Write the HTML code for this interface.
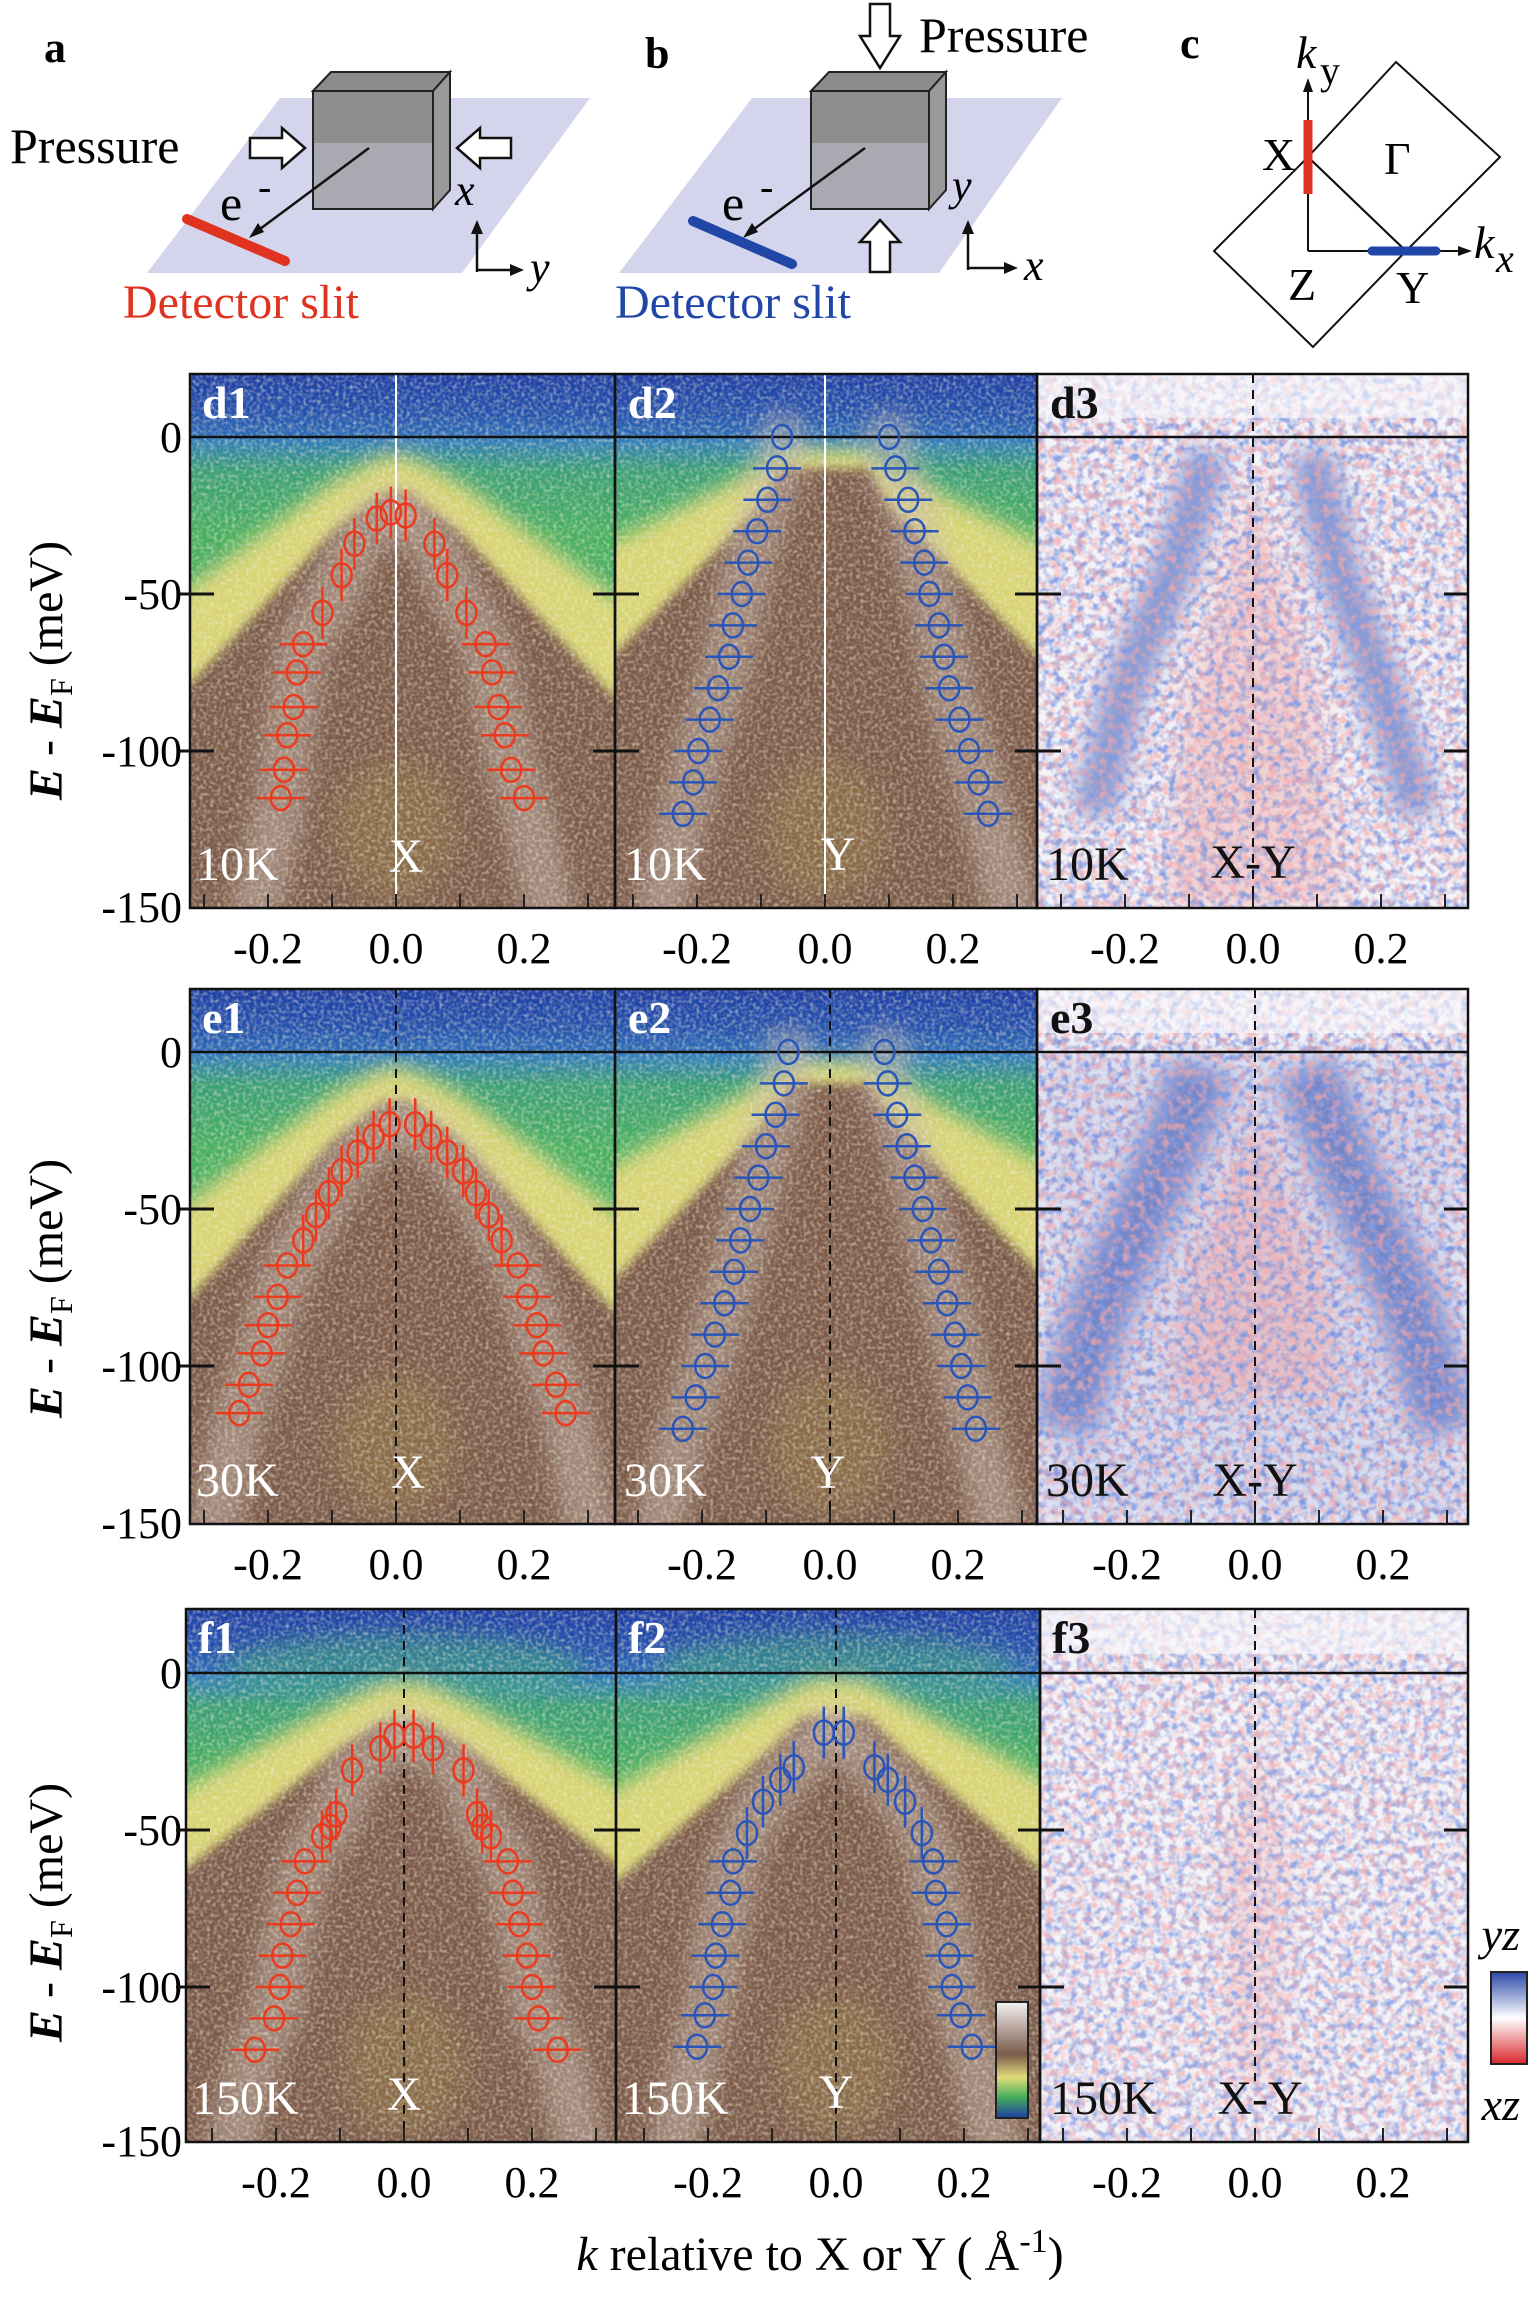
<!DOCTYPE html>
<html><head><meta charset="utf-8">
<style>
html,body{margin:0;padding:0;background:#fff;width:1538px;height:2300px;overflow:hidden;}
svg{display:block;font-family:"Liberation Serif",serif;}
</style></head>
<body>
<svg id="s" width="1538" height="2300" viewBox="0 0 1538 2300" xmlns="http://www.w3.org/2000/svg">
<defs>
  <filter id="b10" x="-30%" y="-30%" width="160%" height="160%"><feGaussianBlur stdDeviation="10"/></filter>
  <filter id="b5" x="-30%" y="-30%" width="160%" height="160%"><feGaussianBlur stdDeviation="5"/></filter>
  <filter id="b14" x="-30%" y="-30%" width="160%" height="160%"><feGaussianBlur stdDeviation="12"/></filter>
  <filter id="nW" x="0" y="0" width="100%" height="100%">
    <feTurbulence type="fractalNoise" baseFrequency="0.28" numOctaves="1" seed="3"/>
    <feColorMatrix type="matrix" values="0 0 0 0 0.95  0 0 0 0 0.92  0 0 0 0 0.9  2.2 0 0 0 -1.0"/>
  </filter>
  <filter id="nD" x="0" y="0" width="100%" height="100%">
    <feTurbulence type="fractalNoise" baseFrequency="0.3" numOctaves="1" seed="9"/>
    <feColorMatrix type="matrix" values="0 0 0 0 0.8  0 0 0 0 0.78  0 0 0 0 0.35  0 2.2 0 0 -1.05"/>
  </filter>
  <filter id="nB" x="0" y="0" width="100%" height="100%">
    <feTurbulence type="fractalNoise" baseFrequency="0.13" numOctaves="2" seed="5"/>
    <feColorMatrix type="matrix" values="0 0 0 0 0.22  0 0 0 0 0.32  0 0 0 0 0.75  3 0 0 0 -1.25"/>
  </filter>
  <filter id="nR" x="0" y="0" width="100%" height="100%">
    <feTurbulence type="fractalNoise" baseFrequency="0.13" numOctaves="2" seed="17"/>
    <feColorMatrix type="matrix" values="0 0 0 0 0.92  0 0 0 0 0.4  0 0 0 0 0.4  0 3 0 0 -1.3"/>
  </filter>
  <linearGradient id="gBG" x1="0" y1="0" x2="0" y2="1">
    <stop offset="0" stop-color="#2f78c2"/>
    <stop offset="0.07" stop-color="#3a9e78"/>
    <stop offset="0.2" stop-color="#48ae62"/>
    <stop offset="1" stop-color="#4fb25c"/>
  </linearGradient>
  <linearGradient id="gTop" x1="0" y1="0" x2="0" y2="1">
    <stop offset="0" stop-color="#1e3ea6"/>
    <stop offset="0.6" stop-color="#2450ae"/>
    <stop offset="1" stop-color="#2d6db8"/>
  </linearGradient>
  <linearGradient id="gCB" x1="0" y1="0" x2="0" y2="1">
    <stop offset="0" stop-color="#f4f2f2"/>
    <stop offset="0.45" stop-color="#7b5a4b"/>
    <stop offset="0.65" stop-color="#e2dc7a"/>
    <stop offset="0.82" stop-color="#45ae5c"/>
    <stop offset="1" stop-color="#1e3ea6"/>
  </linearGradient>
  <linearGradient id="gRB" x1="0" y1="0" x2="0" y2="1">
    <stop offset="0" stop-color="#2a48a8"/>
    <stop offset="0.5" stop-color="#ffffff"/>
    <stop offset="1" stop-color="#d8262a"/>
  </linearGradient>
</defs>

<g id="heat"></g>
<g id="marks"></g>

<!-- ===== top schematic a ===== -->
<g>
  <text x="44" y="62" font-size="44" font-weight="bold">a</text>
  <polygon points="280,98 590,98 462,273 147,273" fill="#c9cbe9" opacity="0.8"/>
  <polygon points="313,91 331,72 450,72 433,91" fill="#8c8c8c" stroke="#222" stroke-width="2"/>
  <polygon points="433,91 450,72 450,190 433,209" fill="#9a9a9a" stroke="#222" stroke-width="2"/>
  <rect x="313" y="91" width="120" height="52" fill="#8e8e8e"/>
  <rect x="313" y="143" width="120" height="66" fill="#a9a9b2"/>
  <rect x="313" y="91" width="120" height="118" fill="none" stroke="#222" stroke-width="2"/>
  <text x="10" y="163" font-size="50">Pressure</text>
  <polygon points="250,138 282,138 282,128 305,148 282,168 282,158 250,158" fill="#fff" stroke="#111" stroke-width="2.5"/>
  <polygon points="511,138 480,138 480,128 457,148 480,168 480,158 511,158" fill="#fff" stroke="#111" stroke-width="2.5"/>
  <line x1="369" y1="148" x2="256" y2="232" stroke="#111" stroke-width="2.5"/>
  <polygon points="249,238 258,223 264,232" fill="#111"/>
  <line x1="187" y1="219" x2="285" y2="261" stroke="#e0331f" stroke-width="10" stroke-linecap="round"/>
  <text x="220" y="220" font-size="50">e</text>
  <text x="258" y="200" font-size="40">-</text>
  <text x="455" y="205" font-size="44" font-style="italic">x</text>
  <polyline points="477,272 477,232" fill="none" stroke="#111" stroke-width="2.5"/>
  <polygon points="471,234 477,220 483,234" fill="#111"/>
  <polyline points="477,270 512,270" fill="none" stroke="#111" stroke-width="2.5"/>
  <polygon points="510,264 524,270 510,276" fill="#111"/>
  <text x="530" y="282" font-size="44" font-style="italic">y</text>
  <text x="123" y="318" font-size="48" fill="#e0331f">Detector slit</text>
</g>

<!-- ===== b ===== -->
<g>
  <text x="645" y="68" font-size="44" font-weight="bold">b</text>
  <polygon points="752,98 1062,98 939,273 619,273" fill="#c9cbe9" opacity="0.8"/>
  <polygon points="811,91 829,72 946,72 929,91" fill="#8c8c8c" stroke="#222" stroke-width="2"/>
  <polygon points="929,91 946,72 946,190 929,209" fill="#9a9a9a" stroke="#222" stroke-width="2"/>
  <rect x="811" y="91" width="118" height="52" fill="#8e8e8e"/>
  <rect x="811" y="143" width="118" height="66" fill="#a9a9b2"/>
  <rect x="811" y="91" width="118" height="118" fill="none" stroke="#222" stroke-width="2"/>
  <polygon points="870,4 890,4 890,36 900,36 880,68 860,36 870,36" fill="#fff" stroke="#111" stroke-width="2.5"/>
  <text x="919" y="52" font-size="50">Pressure</text>
  <polygon points="870,272 890,272 890,242 900,242 880,220 860,242 870,242" fill="#fff" stroke="#111" stroke-width="2.5"/>
  <line x1="865" y1="148" x2="750" y2="232" stroke="#111" stroke-width="2.5"/>
  <polygon points="743,238 752,223 758,232" fill="#111"/>
  <line x1="693" y1="221" x2="792" y2="264" stroke="#2046a8" stroke-width="10" stroke-linecap="round"/>
  <text x="722" y="220" font-size="50">e</text>
  <text x="760" y="200" font-size="40">-</text>
  <text x="952" y="200" font-size="44" font-style="italic">y</text>
  <polyline points="968,270 968,232" fill="none" stroke="#111" stroke-width="2.5"/>
  <polygon points="962,234 968,220 974,234" fill="#111"/>
  <polyline points="968,268 1006,268" fill="none" stroke="#111" stroke-width="2.5"/>
  <polygon points="1004,262 1018,268 1004,274" fill="#111"/>
  <text x="1024" y="280" font-size="44" font-style="italic">x</text>
  <text x="615" y="318" font-size="48" fill="#2046a8">Detector slit</text>
</g>

<!-- ===== c ===== -->
<g>
  <text x="1180" y="58" font-size="44" font-weight="bold">c</text>
  <polygon points="1396,62 1500,157 1406,251 1308,157" fill="none" stroke="#111" stroke-width="2"/>
  <polygon points="1308,157 1406,251 1313,347 1214,251" fill="none" stroke="#111" stroke-width="2"/>
  <line x1="1308" y1="251" x2="1308" y2="88" stroke="#111" stroke-width="2"/>
  <polygon points="1303,92 1308,78 1313,92" fill="#111"/>
  <line x1="1308" y1="251" x2="1462" y2="251" stroke="#111" stroke-width="2"/>
  <polygon points="1458,246 1472,251 1458,256" fill="#111"/>
  <line x1="1308" y1="120" x2="1308" y2="194" stroke="#e0331f" stroke-width="9"/>
  <line x1="1372" y1="251" x2="1436" y2="251" stroke="#2046a8" stroke-width="9" stroke-linecap="round"/>
  <text x="1296" y="68" font-size="46" font-style="italic">k</text>
  <text x="1320" y="84" font-size="40">y</text>
  <text x="1262" y="170" font-size="46">X</text>
  <text x="1384" y="174" font-size="46">Γ</text>
  <text x="1474" y="258" font-size="46" font-style="italic">k</text>
  <text x="1496" y="272" font-size="40" font-style="italic">x</text>
  <text x="1288" y="300" font-size="46">Z</text>
  <text x="1396" y="303" font-size="46">Y</text>
</g>

<!-- ===== axis labels ===== -->
<g font-size="44" text-anchor="end">
  <text x="182" y="452">0</text><text x="182" y="609">-50</text><text x="182" y="766">-100</text><text x="182" y="922">-150</text>
  <text x="182" y="1067">0</text><text x="182" y="1224">-50</text><text x="182" y="1381">-100</text><text x="182" y="1538">-150</text>
  <text x="182" y="1688">0</text><text x="182" y="1845">-50</text><text x="182" y="2002">-100</text><text x="182" y="2156">-150</text>
</g>
<g font-size="44" text-anchor="middle">
  <text x="268" y="963">-0.2</text><text x="396" y="963">0.0</text><text x="524" y="963">0.2</text>
  <text x="697" y="963">-0.2</text><text x="825" y="963">0.0</text><text x="953" y="963">0.2</text>
  <text x="1125" y="963">-0.2</text><text x="1253" y="963">0.0</text><text x="1381" y="963">0.2</text>
  <text x="268" y="1579">-0.2</text><text x="396" y="1579">0.0</text><text x="524" y="1579">0.2</text>
  <text x="702" y="1579">-0.2</text><text x="830" y="1579">0.0</text><text x="958" y="1579">0.2</text>
  <text x="1127" y="1579">-0.2</text><text x="1255" y="1579">0.0</text><text x="1383" y="1579">0.2</text>
  <text x="276" y="2197">-0.2</text><text x="404" y="2197">0.0</text><text x="532" y="2197">0.2</text>
  <text x="708" y="2197">-0.2</text><text x="836" y="2197">0.0</text><text x="964" y="2197">0.2</text>
  <text x="1127" y="2197">-0.2</text><text x="1255" y="2197">0.0</text><text x="1383" y="2197">0.2</text>
</g>
<g font-size="48">
  <text transform="translate(62,800) rotate(-90)"><tspan font-style="italic" font-weight="bold">E</tspan> - <tspan font-style="italic" font-weight="bold">E</tspan><tspan font-size="32" dy="10">F</tspan><tspan dy="-10"> (meV)</tspan></text>
  <text transform="translate(62,1418) rotate(-90)"><tspan font-style="italic" font-weight="bold">E</tspan> - <tspan font-style="italic" font-weight="bold">E</tspan><tspan font-size="32" dy="10">F</tspan><tspan dy="-10"> (meV)</tspan></text>
  <text transform="translate(62,2042) rotate(-90)"><tspan font-style="italic" font-weight="bold">E</tspan> - <tspan font-style="italic" font-weight="bold">E</tspan><tspan font-size="32" dy="10">F</tspan><tspan dy="-10"> (meV)</tspan></text>
</g>
<text x="820" y="2270" font-size="48" text-anchor="middle"><tspan font-style="italic">k</tspan> relative to X or Y ( Å<tspan font-size="34" dy="-18">-1</tspan><tspan dy="18">)</tspan></text>

<!-- panel labels -->
<g font-size="46" font-weight="bold">
  <text x="202" y="418" fill="#fff">d1</text><text x="628" y="418" fill="#fff">d2</text><text x="1050" y="418" fill="#111">d3</text>
  <text x="202" y="1033" fill="#fff">e1</text><text x="628" y="1033" fill="#fff">e2</text><text x="1050" y="1033" fill="#111">e3</text>
  <text x="198" y="1653" fill="#fff">f1</text><text x="628" y="1653" fill="#fff">f2</text><text x="1052" y="1653" fill="#111">f3</text>
</g>
<g font-size="48">
  <text x="196" y="880" fill="#fff">10K</text><text x="406" y="872" fill="#fff" text-anchor="middle">X</text>
  <text x="624" y="880" fill="#fff">10K</text><text x="838" y="870" fill="#fff" text-anchor="middle">Y</text>
  <text x="1046" y="880" fill="#111">10K</text><text x="1253" y="878" fill="#111" text-anchor="middle">X-Y</text>
  <text x="196" y="1496" fill="#fff">30K</text><text x="408" y="1488" fill="#fff" text-anchor="middle">X</text>
  <text x="624" y="1496" fill="#fff">30K</text><text x="828" y="1488" fill="#fff" text-anchor="middle">Y</text>
  <text x="1046" y="1496" fill="#111">30K</text><text x="1255" y="1496" fill="#111" text-anchor="middle">X-Y</text>
  <text x="192" y="2114" fill="#fff">150K</text><text x="404" y="2110" fill="#fff" text-anchor="middle">X</text>
  <text x="622" y="2114" fill="#fff">150K</text><text x="836" y="2108" fill="#fff" text-anchor="middle">Y</text>
  <text x="1050" y="2114" fill="#111">150K</text><text x="1260" y="2114" fill="#111" text-anchor="middle">X-Y</text>
</g>
<!-- colorbars -->
<rect x="996" y="2002" width="32" height="116" fill="url(#gCB)" stroke="#222" stroke-width="2"/>
<text x="1520" y="1950" font-size="46" font-style="italic" text-anchor="end">yz</text>
<rect x="1491" y="1972" width="36" height="92" fill="url(#gRB)" stroke="#222" stroke-width="2"/>
<text x="1520" y="2120" font-size="46" font-style="italic" text-anchor="end">xz</text>
</svg>

<script>
(function(){
var NS="http://www.w3.org/2000/svg";
var heat=document.getElementById('heat'), marks=document.getElementById('marks');
var defs=document.querySelector('defs');
function el(t,a,p){var e=document.createElementNS(NS,t);for(var k in a)e.setAttribute(k,a[k]);(p||heat).appendChild(e);return e;}
var KS=640, ES=3.14;
var rows=[{y1:374,y2:908,E0:437},{y1:989,y2:1524,E0:1052},{y1:1609,y2:2142,E0:1673}];
var cols=[
 [{x1:190,x2:615,k0:396},{x1:615,x2:1037,k0:825},{x1:1037,x2:1468,k0:1253}],
 [{x1:190,x2:615,k0:396},{x1:615,x2:1037,k0:830},{x1:1037,x2:1468,k0:1255}],
 [{x1:186,x2:616,k0:404},{x1:616,x2:1040,k0:836},{x1:1040,x2:1468,k0:1255}]];
var cid=0;
function P(p){return function(k,E){return [(p.k0+k*KS).toFixed(1),(p.E0-E*ES).toFixed(1)];};}
function poly(f,pts){return pts.map(function(q){return f(q[0],q[1]).join(',');}).join(' ');}
function dome(apex,edge,w){
 var pts=[[-0.6,edge-60],[-0.42,edge],[-0.25,apex+(edge-apex)*0.55],[-0.1,apex+(edge-apex)*0.15],[-w,apex],[w,apex],[0.1,apex+(edge-apex)*0.15],[0.25,apex+(edge-apex)*0.55],[0.42,edge],[0.6,edge-60],[0.6,-250],[-0.6,-250]];
 return pts;}
function arpes(p,cfg){
 var f=P(p); cid++;
 var cp=el('clipPath',{id:'c'+cid},defs); el('rect',{x:p.x1,y:p.y1,width:p.x2-p.x1,height:p.y2-p.y1},cp);
 var g=el('g',{'clip-path':'url(#c'+cid+')'});
 el('rect',{x:p.x1,y:p.y1,width:p.x2-p.x1,height:p.E0-p.y1,fill:'url(#gTop)'},g);
 el('rect',{x:p.x1,y:p.E0,width:p.x2-p.x1,height:p.y2-p.E0,fill:'url(#gBG)'},g);
 if(cfg.fTop){el('ellipse',{cx:p.k0,cy:p.E0-5,rx:180,ry:35,fill:'#3aa07a',opacity:0.55,filter:'url(#b10)'},g);}
 el('polygon',{points:poly(f,dome(cfg.y[0],cfg.y[1],cfg.y[2])),fill:'#d8d474',filter:'url(#b10)'},g);
 el('polygon',{points:poly(f,dome(cfg.b[0],cfg.b[1],cfg.b[2])),fill:'#7b5a4b',filter:'url(#b5)'},g);
 cfg.bands.forEach(function(L){
   var d='M'+L.map(function(q){return f(q[0],q[1]).join(',');}).join(' L');
   el('path',{d:d,fill:'none',stroke:'#c4b4ac','stroke-width':50,opacity:0.5,filter:'url(#b10)','stroke-linecap':'round'},g);
 });
 el('ellipse',{cx:p.k0,cy:p.E0+125*ES,rx:60,ry:70,fill:'#a08848',opacity:0.35,filter:'url(#b14)'},g);
 el('rect',{x:p.x1,y:p.y1,width:p.x2-p.x1,height:p.y2-p.y1,filter:'url(#nW)',opacity:0.55},g);
 el('rect',{x:p.x1,y:p.y1,width:p.x2-p.x1,height:p.y2-p.y1,filter:'url(#nD)',opacity:0.45},g);
}
function diffmap(p,cfg){
 var f=P(p); cid++;
 var cp=el('clipPath',{id:'c'+cid},defs); el('rect',{x:p.x1,y:p.y1,width:p.x2-p.x1,height:p.y2-p.y1},cp);
 var g=el('g',{'clip-path':'url(#c'+cid+')'});
 el('rect',{x:p.x1,y:p.y1,width:p.x2-p.x1,height:p.y2-p.y1,fill:'#f3f3f8'},g);
 if(cfg.wide){el('rect',{x:p.x1,y:p.E0,width:p.x2-p.x1,height:p.y2-p.E0,fill:'#a8b4e0',opacity:cfg.wide,filter:'url(#b14)'},g);}
 cfg.blue.forEach(function(L){
   var d='M'+L.map(function(q){return f(q[0],q[1]).join(',');}).join(' L');
   el('path',{d:d,fill:'none',stroke:'#3a56b4','stroke-width':cfg.bw,opacity:cfg.bo,filter:'url(#b14)'},g);
 });
 if(cfg.red){el('polygon',{points:poly(f,cfg.red),fill:'#f2a8a8',opacity:cfg.ro,filter:'url(#b14)'},g);}
 el('rect',{x:p.x1,y:p.y1,width:p.x2-p.x1,height:p.y2-p.y1,filter:'url(#nB)',opacity:cfg.nb},g);
 el('rect',{x:p.x1,y:p.y1,width:p.x2-p.x1,height:p.y2-p.y1,filter:'url(#nR)',opacity:cfg.nr},g);
 if(cfg.topWhite){el('rect',{x:p.x1,y:p.y1,width:p.x2-p.x1,height:(p.E0-p.y1)*0.7,fill:'#fafafd',opacity:0.6},g);}
}
var d1=[[-0.18,-115,'h'],[-0.175,-106,'h'],[-0.17,-95,'h'],[-0.16,-86,'h'],[-0.155,-75,'h'],[-0.145,-66,'h'],[-0.115,-56,'v'],[-0.085,-44,'v'],[-0.065,-34,'v'],[-0.03,-26,'v'],[-0.008,-24,'v'],[0.015,-25,'v'],[0.06,-34,'v'],[0.08,-44,'v'],[0.11,-56,'v'],[0.14,-66,'h'],[0.15,-75,'h'],[0.16,-86,'h'],[0.17,-95,'h'],[0.18,-106,'h'],[0.2,-115,'h']];
var d2L=[-0.067,-0.075,-0.09,-0.106,-0.12,-0.13,-0.144,-0.15,-0.167,-0.18,-0.198,-0.206,-0.222];
var d2R=[0.10,0.11,0.13,0.14,0.155,0.163,0.178,0.186,0.194,0.21,0.225,0.24,0.255];
var d2=[];for(var i=0;i<13;i++){d2.push([d2L[i],-10*i,i?'h':'n']);d2.push([d2R[i],-10*i,i?'h':'n']);}
var e1=[[-0.245,-115,'h'],[-0.23,-106,'h'],[-0.21,-96,'h'],[-0.2,-87,'h'],[-0.185,-78,'h'],[-0.17,-68,'h'],[-0.145,-60,'v'],[-0.125,-52,'v'],[-0.105,-45,'v'],[-0.085,-38,'v'],[-0.06,-32,'v'],[-0.035,-27,'v'],[-0.01,-23,'v']];
var e1r=e1.map(function(q){return [-q[0]+0.02,q[1],q[2]];});e1=e1.concat(e1r);
var e2L=[-0.065,-0.072,-0.085,-0.1,-0.112,-0.125,-0.14,-0.15,-0.165,-0.18,-0.195,-0.21,-0.23];
var e2R=[0.085,0.09,0.105,0.12,0.132,0.145,0.158,0.17,0.183,0.195,0.205,0.215,0.228];
var e2=[];for(i=0;i<13;i++){e2.push([e2L[i],-10*i,i?'h':'n']);e2.push([e2R[i],-10*i,i?'h':'n']);}
var f1=[[-0.233,-120,'h'],[-0.203,-110,'h'],[-0.194,-100,'h'],[-0.19,-90,'h'],[-0.177,-80,'h'],[-0.167,-70,'h'],[-0.155,-60,'h'],[-0.128,-52,'v'],[-0.115,-49,'v'],[-0.106,-45,'v'],[-0.081,-31,'v'],[-0.037,-24,'v'],[-0.015,-20,'v'],[0.015,-20,'v'],[0.045,-24,'v'],[0.093,-31,'v'],[0.114,-45,'v'],[0.122,-49,'v'],[0.136,-52,'v'],[0.162,-60,'h'],[0.17,-70,'h'],[0.18,-80,'h'],[0.192,-90,'h'],[0.2,-100,'h'],[0.21,-110,'h'],[0.24,-120,'h']];
var f2=[[-0.217,-119,'h'],[-0.205,-109,'h'],[-0.192,-100,'h'],[-0.188,-90,'h'],[-0.178,-80,'h'],[-0.165,-70,'h'],[-0.161,-60,'h'],[-0.139,-51,'v'],[-0.114,-41,'v'],[-0.087,-34,'v'],[-0.066,-30,'v'],[-0.019,-19,'v'],[0.012,-19,'v'],[0.06,-30,'v'],[0.081,-34,'v'],[0.108,-41,'v'],[0.134,-51,'v'],[0.152,-60,'h'],[0.156,-70,'h'],[0.173,-80,'h'],[0.177,-90,'h'],[0.181,-100,'h'],[0.195,-109,'h'],[0.212,-119,'h']];
function bands(D){var L=D.filter(function(q){return q[0]<0;}).sort(function(a,b){return a[1]-b[1];}),R=D.filter(function(q){return q[0]>=0;}).sort(function(a,b){return a[1]-b[1];});
 L=[[L[0][0]-0.06,-170]].concat(L);R=[[R[0][0]+0.06,-170]].concat(R);return [L,R];}
arpes(Object.assign({},cols[0][0],rows[0]),{y:[-6,-62,0.02],b:[-18,-100,0.02],bands:bands(d1)});
arpes(Object.assign({},cols[0][1],rows[0]),{y:[-4,-42,0.06],b:[-10,-88,0.07],bands:bands(d2)});
arpes(Object.assign({},cols[1][0],rows[1]),{y:[-5,-62,0.02],b:[-16,-100,0.02],bands:bands(e1)});
arpes(Object.assign({},cols[1][1],rows[1]),{y:[-3,-45,0.05],b:[-10,-90,0.06],bands:bands(e2)});
arpes(Object.assign({},cols[2][0],rows[2]),{y:[-3,-45,0.03],b:[-15,-75,0.03],bands:bands(f1),fTop:1});
arpes(Object.assign({},cols[2][1],rows[2]),{y:[-2,-45,0.04],b:[-14,-80,0.05],bands:bands(f2),fTop:1});
diffmap(Object.assign({},cols[0][2],rows[0]),{blue:[[[-0.07,-5],[-0.12,-40],[-0.2,-80],[-0.25,-120]],[[0.09,-5],[0.13,-40],[0.2,-80],[0.26,-120]]],bw:40,bo:0.6,red:[[0,-15],[0.1,-80],[0.14,-150],[-0.14,-150],[-0.1,-80]],ro:0.45,nb:0.9,nr:0.7,topWhite:1});
diffmap(Object.assign({},cols[1][2],rows[1]),{blue:[[[-0.08,-5],[-0.15,-40],[-0.24,-80],[-0.3,-120]],[[0.08,-5],[0.15,-40],[0.24,-80],[0.3,-120]]],bw:60,bo:0.65,red:[[0,-20],[0.1,-70],[0.13,-110],[-0.13,-110],[-0.1,-70]],ro:0.5,nb:1,nr:0.7,wide:0.35,topWhite:1});
diffmap(Object.assign({},cols[2][2],rows[2]),{blue:[],bw:0,bo:0,red:[[0,-15],[0.05,-60],[0.04,-130],[-0.04,-130],[-0.05,-60]],ro:0.3,nb:0.8,nr:0.65,topWhite:1});
for(var r=0;r<3;r++){var R=rows[r];
 for(var c=0;c<3;c++){var C=Object.assign({},cols[r][c],R);
  var dash=(r==0&&c<2)?null:'9,7'; var vc=(r==0&&c<2)?'#fff':'#111';
  var a={x1:C.k0,y1:C.y1,x2:C.k0,y2:C.y2,stroke:vc,'stroke-width':2};
  if(dash)a['stroke-dasharray']=dash;
  if(c==2&&r==2){a.y2=C.E0+130*ES;}
  el('line',a,marks);
  for(var k=-0.3;k<=0.31;k+=0.1){var x=C.k0+k*KS; if(x>C.x1+3&&x<C.x2-3) el('line',{x1:x,y1:C.y2,x2:x,y2:C.y2-14,stroke:'#222','stroke-width':2},marks);}
  [-50,-100].forEach(function(E){var y=C.E0-E*ES;
    el('line',{x1:C.x1-(c==0?10:22),y1:y,x2:C.x1+24,y2:y,stroke:'#111','stroke-width':3},marks);});
  el('rect',{x:C.x1,y:C.y1,width:C.x2-C.x1,height:C.y2-C.y1,fill:'none',stroke:'#111','stroke-width':2.5},marks);
 }
 [-50,-100].forEach(function(E){var y=R.E0-E*ES; el('line',{x1:1444,y1:y,x2:1468,y2:y,stroke:'#111','stroke-width':3},marks);});
 el('line',{x1:cols[r][0].x1,y1:R.E0,x2:1468,y2:R.E0,stroke:'#111','stroke-width':2.5},marks);
}
function drawPts(p,D,col){var f=P(p);
 D.forEach(function(q){var xy=f(q[0],q[1]),x=+xy[0],y=+xy[1];
  if(q[2]=='h')el('line',{x1:x-24,y1:y,x2:x+24,y2:y,stroke:col,'stroke-width':2.5},marks);
  if(q[2]=='v')el('line',{x1:x,y1:y-26,x2:x,y2:y+26,stroke:col,'stroke-width':2.5},marks);
  el('ellipse',{cx:x,cy:y,rx:10,ry:12,fill:'none',stroke:col,'stroke-width':2.5},marks);
 });}
var RED='#ec3a1e',BLU='#2a55b8';
drawPts(Object.assign({},cols[0][0],rows[0]),d1,RED);
drawPts(Object.assign({},cols[0][1],rows[0]),d2,BLU);
drawPts(Object.assign({},cols[1][0],rows[1]),e1,RED);
drawPts(Object.assign({},cols[1][1],rows[1]),e2,BLU);
drawPts(Object.assign({},cols[2][0],rows[2]),f1,RED);
drawPts(Object.assign({},cols[2][1],rows[2]),f2,BLU);
var svg=document.getElementById('s');
svg.insertBefore(marks, svg.querySelector('g[font-size="46"][font-weight="bold"]'));
})();
</script>
</body></html>
